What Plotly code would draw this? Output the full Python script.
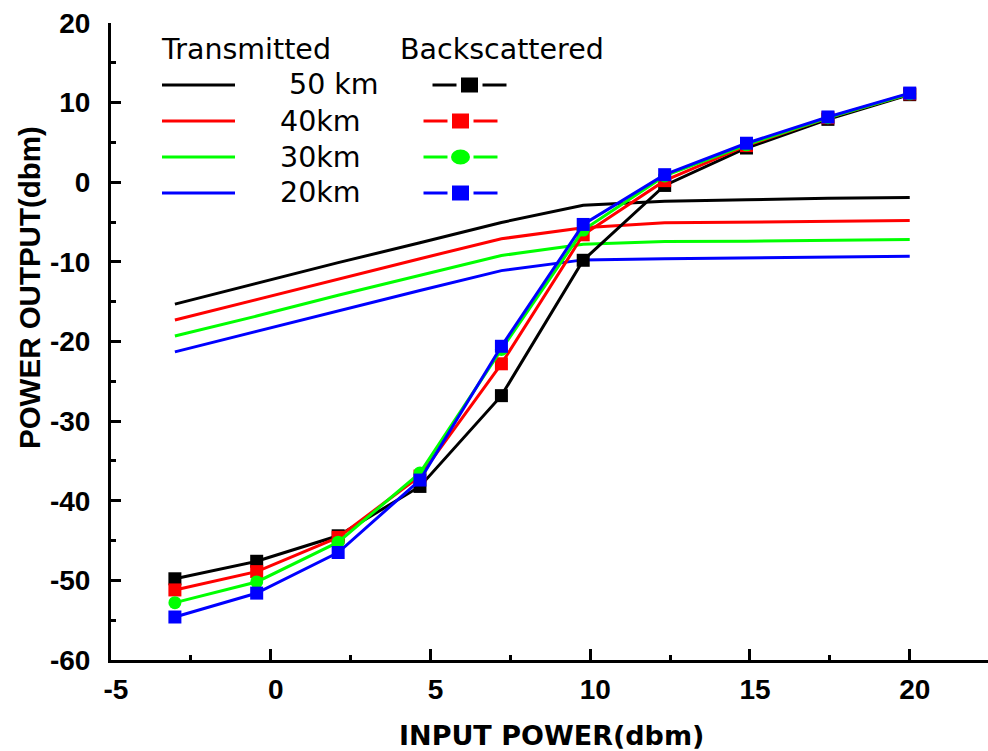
import plotly.graph_objects as go

# Input power (dBm) at which each output was measured
input_power = [-3.0, -0.44, 2.11, 4.67, 7.22, 9.78, 12.33, 14.89, 17.44, 20.0]

# Fibre lengths and their colours
lengths = ["50 km", "40km", "30km", "20km"]
colors = ["#000000", "#ff0000", "#00ff00", "#0000ff"]
symbols = ["square", "square", "circle", "square"]

# Transmitted power output (dBm)
trans_50 = [-15.3, -12.7, -10.1, -7.6, -5.05, -2.9, -2.4, -2.2, -2.0, -1.9]
trans_40 = [-17.3, -14.7, -12.2, -9.6, -7.1, -5.7, -5.1, -5.0, -4.9, -4.8]
trans_30 = [-19.3, -16.8, -14.2, -11.7, -9.2, -7.8, -7.45, -7.4, -7.3, -7.2]
trans_20 = [-21.3, -18.7, -16.2, -13.6, -11.1, -9.75, -9.6, -9.5, -9.4, -9.3]

# Backscattered power output (dBm)
back_50 = [-49.8, -47.6, -44.4, -38.2, -26.8, -9.8, -0.4, 4.3, 7.9, 11.0]
back_40 = [-51.2, -48.9, -44.6, -36.9, -22.8, -6.6, 0.2, 4.6, 8.1, 11.1]
back_30 = [-52.8, -50.2, -45.2, -36.5, -21.0, -6.0, 0.8, 4.7, 8.1, 11.1]
back_20 = [-54.6, -51.6, -46.5, -37.4, -20.6, -5.3, 0.95, 4.9, 8.2, 11.2]

# Axis ticks (plain hyphen as the minus sign)
x_tick_vals = [-5, 0, 5, 10, 15, 20]
x_tick_text = ["-5", "0", "5", "10", "15", "20"]
y_tick_vals = [-60, -50, -40, -30, -20, -10, 0, 10, 20]
y_tick_text = ["-60", "-50", "-40", "-30", "-20", "-10", "0", "10", "20"]

transmitted = [trans_50, trans_40, trans_30, trans_20]
backscattered = [back_50, back_40, back_30, back_20]

W, H = 988, 751
PL, PR, PT, PB = 111, 988, 23, 660  # plot area in pixels


def px(x):
    return (x - PL) / (PR - PL)


def py(y):
    return (PB - y) / (PB - PT)


fig = go.Figure()

for name, col, ys in zip(lengths, colors, transmitted):
    fig.add_trace(go.Scatter(x=input_power, y=ys, mode="lines", name=name,
                             line=dict(color=col, width=3)))

for name, col, sym, ys in zip(lengths, colors, symbols, backscattered):
    fig.add_trace(go.Scatter(x=input_power, y=ys, mode="lines+markers", name=name,
                             line=dict(color=col, width=3),
                             marker=dict(symbol=sym, size=13, color=col,
                                         line=dict(width=0))))

tick_font = dict(family="Liberation Sans", size=28, color="black", weight="bold")
x_range = [-5, 22.45]
y_range = [-60, 20]

fig.update_layout(
    width=W, height=H,
    margin=dict(l=PL, r=W - PR, t=PT, b=H - PB, pad=0),
    paper_bgcolor="white", plot_bgcolor="white",
    showlegend=False,
    xaxis=dict(range=x_range, tickmode="array", tickvals=x_tick_vals,
               ticktext=x_tick_text,
               ticks="inside", ticklen=11, tickwidth=3, tickcolor="black",
               minor=dict(tickmode="linear", tick0=0, dtick=2.5, ticks="inside",
                          ticklen=5, tickwidth=3, tickcolor="black"),
               showline=True, linewidth=3, linecolor="black",
               showgrid=False, zeroline=False, tickfont=tick_font,
               ticklabelstandoff=2, ticklabelshift=5),
    yaxis=dict(range=y_range, tickmode="array", tickvals=y_tick_vals,
               ticktext=y_tick_text,
               ticks="inside", ticklen=10, tickwidth=3, tickcolor="black",
               minor=dict(tickmode="linear", tick0=0, dtick=5, ticks="inside",
                          ticklen=5, tickwidth=3, tickcolor="black"),
               showline=True, linewidth=3, linecolor="black",
               showgrid=False, zeroline=False, tickfont=tick_font,
               ticklabelstandoff=12),
    xaxis2=dict(range=x_range, overlaying="x", side="top", tickmode="linear",
                tick0=0, dtick=2.5, ticks="inside", ticklen=11, tickwidth=3,
                tickcolor="black", showline=True, linewidth=3, linecolor="black",
                showticklabels=False, showgrid=False, zeroline=False),
    yaxis2=dict(range=y_range, overlaying="y", side="right", tickmode="linear",
                tick0=0, dtick=10, ticks="inside", ticklen=10, tickwidth=3,
                tickcolor="black",
                minor=dict(tickmode="linear", tick0=0, dtick=5, ticks="inside",
                           ticklen=5, tickwidth=3, tickcolor="black"),
                showline=False, showticklabels=False, showgrid=False,
                zeroline=False),
)

x_title_font = dict(family="DejaVu Sans", size=27, color="black", weight="bold")
y_title_font = dict(family="Liberation Sans", size=29.5, color="black", weight="bold")
legend_font = dict(family="DejaVu Sans", size=28.5, color="black")

annotations = [
    dict(text="INPUT POWER(dbm)", x=px(551), y=py(736), xref="paper", yref="paper",
         xanchor="center", yanchor="middle", showarrow=False, font=x_title_font),
    dict(text="POWER OUTPUT(dbm)", x=px(30), y=py(288), xref="paper", yref="paper",
         xanchor="center", yanchor="middle", showarrow=False, font=y_title_font,
         textangle=-90),
    dict(text="Transmitted", x=px(159), y=py(49), xref="paper", yref="paper",
         xanchor="left", yanchor="middle", showarrow=False, font=legend_font),
    dict(text="Backscattered", x=px(398), y=py(49), xref="paper", yref="paper",
         xanchor="left", yanchor="middle", showarrow=False, font=legend_font),
]

# Legend rows: label, transmitted sample, backscattered sample
row_y = [85, 121, 157, 193]
label_x = [287, 278, 278, 278]
marker_cx = [469.5, 460.5, 460.5, 460.5]
shapes = []
for name, col, sym, ry, lx, mcx in zip(lengths, colors, symbols, row_y, label_x, marker_cx):
    annotations.append(dict(text=name, x=px(lx), y=py(ry), xref="paper", yref="paper",
                            xanchor="left", yanchor="middle", showarrow=False,
                            font=legend_font))
    shapes.append(dict(type="line", xref="paper", yref="paper",
                       x0=px(162), x1=px(235), y0=py(ry), y1=py(ry),
                       line=dict(color=col, width=3)))
    shapes.append(dict(type="line", xref="paper", yref="paper",
                       x0=px(mcx - 37), x1=px(mcx - 13), y0=py(ry), y1=py(ry),
                       line=dict(color=col, width=3)))
    shapes.append(dict(type="line", xref="paper", yref="paper",
                       x0=px(mcx + 13), x1=px(mcx + 37), y0=py(ry), y1=py(ry),
                       line=dict(color=col, width=3)))
    if sym == "circle":
        shapes.append(dict(type="circle", xref="paper", yref="paper",
                           x0=px(mcx - 9.5), x1=px(mcx + 9.5),
                           y0=py(ry + 7.5), y1=py(ry - 7.5),
                           fillcolor=col, line=dict(width=0)))
    else:
        shapes.append(dict(type="rect", xref="paper", yref="paper",
                           x0=px(mcx - 8.5), x1=px(mcx + 8.5),
                           y0=py(ry + 7.5), y1=py(ry - 7.5),
                           fillcolor=col, line=dict(width=0)))

fig.update_layout(annotations=annotations, shapes=shapes)

fig.write_html("out.html")
